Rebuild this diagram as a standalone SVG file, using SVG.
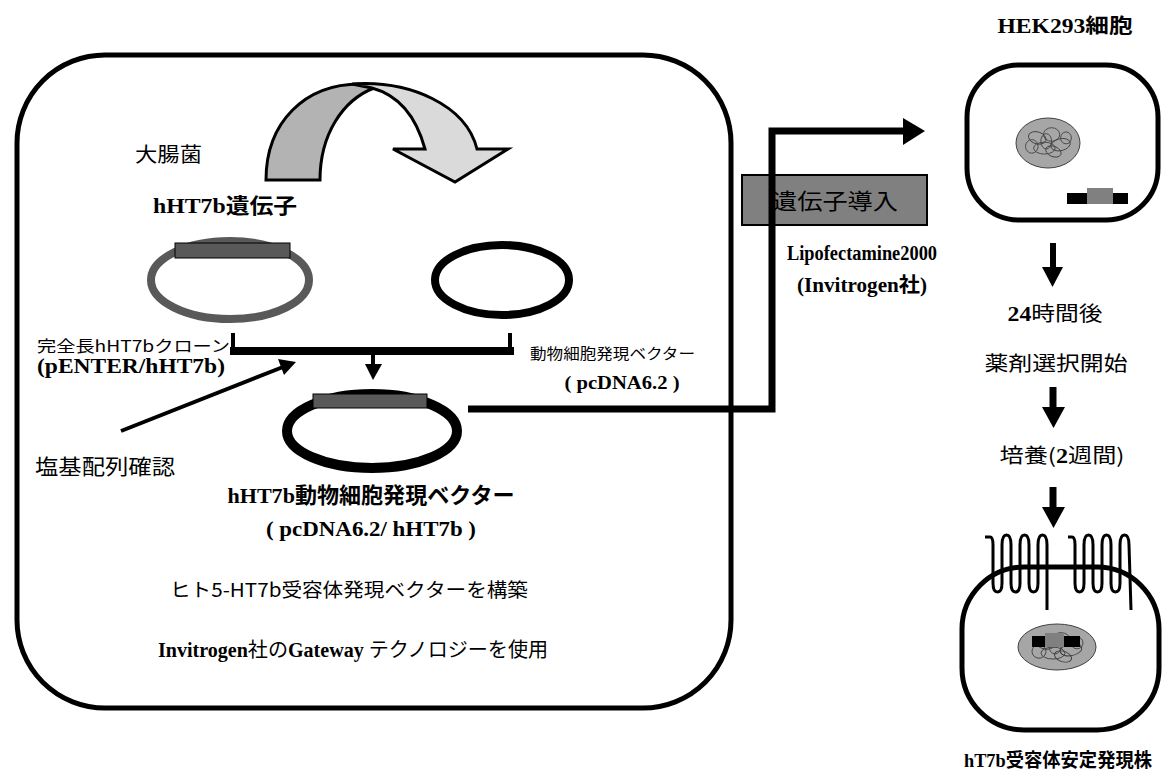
<svg xmlns="http://www.w3.org/2000/svg" width="1169" height="784" viewBox="0 0 1169 784">
  <style>
    text { font-family: "Liberation Serif", "Noto Sans CJK JP", serif; fill: #000; }
    .jp { font-family: "Noto Sans CJK JP", "Liberation Sans", sans-serif; }
    .b { font-weight: bold; }
    .thick { fill: none; stroke: #000; }
    .chrom { fill: none; stroke: #404040; stroke-width: 1; }
  </style>
  <defs>
    <g id="chromatin">
      <ellipse class="chrom" cx="-12" cy="-6" rx="10" ry="7" transform="rotate(20 -12 -6)"/>
      <ellipse class="chrom" cx="4" cy="-10" rx="9" ry="8"/>
      <ellipse class="chrom" cx="14" cy="2" rx="11" ry="7" transform="rotate(-15 14 2)"/>
      <ellipse class="chrom" cx="-4" cy="6" rx="12" ry="7"/>
      <ellipse class="chrom" cx="-18" cy="4" rx="7" ry="8"/>
      <ellipse class="chrom" cx="6" cy="10" rx="9" ry="6" transform="rotate(25 6 10)"/>
      <ellipse class="chrom" cx="-2" cy="-2" rx="6" ry="9"/>
      <ellipse class="chrom" cx="20" cy="-6" rx="6" ry="7"/>
    </g>
  </defs>

  <!-- vector construction panel -->
  <g id="panel">
    <rect x="17" y="55" width="714" height="653" rx="88" ry="88" class="thick" stroke-width="5"/>
  </g>

  <!-- curved transfer arrow -->
  <g id="curved-arrow" stroke="#000" stroke-width="3" stroke-linejoin="miter">
    <path d="M266,180 C266,122 305,84 360,84 L374,88 C343,100 320,134 320,180 Z" fill="#b3b3b3"/>
    <path d="M352,84 C410,80 466,105 477,149 L508,149 L455,182 L393,149 L425,149 C416,116 398,95 372,88 Z" fill="#dadada"/>
  </g>

  <g id="label-ecoli"><text class="jp" x="135" y="162" font-size="20" textLength="67" lengthAdjust="spacingAndGlyphs">大腸菌</text></g>
  <g id="label-gene"><text class="b" x="153" y="213" font-size="21" textLength="144" lengthAdjust="spacingAndGlyphs">hHT7b遺伝子</text></g>

  <!-- entry clone plasmid -->
  <g id="plasmid-entry">
    <ellipse cx="230" cy="280" rx="79" ry="39" fill="none" stroke="#595959" stroke-width="8"/>
    <rect x="175" y="243" width="115" height="15" fill="#595959" stroke="#000" stroke-width="1"/>
  </g>
  <g id="label-entry">
    <text class="jp" x="37" y="352" font-size="16" textLength="193" lengthAdjust="spacingAndGlyphs">完全長hHT7bクローン</text>
    <text class="b" x="37" y="373" font-size="20" textLength="188" lengthAdjust="spacingAndGlyphs">(pENTER/hHT7b)</text>
  </g>

  <!-- destination vector -->
  <g id="plasmid-dest">
    <ellipse cx="502" cy="280" rx="67" ry="35" fill="none" stroke="#000" stroke-width="8"/>
  </g>
  <g id="label-dest">
    <text class="jp" x="530" y="359" font-size="15" textLength="165" lengthAdjust="spacingAndGlyphs">動物細胞発現ベクター</text>
    <text class="b" x="622" y="389" font-size="19" text-anchor="middle" textLength="115" lengthAdjust="spacingAndGlyphs">( pcDNA6.2 )</text>
  </g>

  <!-- expression vector -->
  <g id="plasmid-expr">
    <ellipse cx="372" cy="431" rx="85" ry="37" fill="none" stroke="#000" stroke-width="10"/>
    <rect x="313" y="394" width="114" height="14" fill="#595959" stroke="#000" stroke-width="1"/>
  </g>
  <g id="label-expr">
    <text class="b" x="371" y="503" font-size="22" text-anchor="middle" textLength="287" lengthAdjust="spacingAndGlyphs">hHT7b動物細胞発現ベクター</text>
    <text class="b" x="371" y="536" font-size="20" text-anchor="middle" textLength="210" lengthAdjust="spacingAndGlyphs">( pcDNA6.2/ hHT7b )</text>
  </g>

  <g id="label-seq"><text class="jp" x="35" y="474" font-size="21" textLength="140" lengthAdjust="spacingAndGlyphs">塩基配列確認</text></g>

  <g id="notes">
    <text class="jp" x="170" y="597" font-size="19" textLength="358" lengthAdjust="spacingAndGlyphs">ヒト5-HT7b受容体発現ベクターを構築</text>
    <text x="158" y="657" font-size="20" textLength="390" lengthAdjust="spacingAndGlyphs"><tspan class="b">Invitrogen</tspan><tspan class="jp">社の</tspan><tspan class="b">Gateway </tspan><tspan class="jp">テクノロジーを使用</tspan></text>
  </g>

  <!-- transfection step -->
  <g id="transfection">
    <rect x="742" y="175" width="185" height="50" fill="#808080" stroke="#000" stroke-width="2"/>
    <text class="jp" x="835" y="209" font-size="22" text-anchor="middle" textLength="126" lengthAdjust="spacingAndGlyphs">遺伝子導入</text>
  </g>
  <g id="label-reagent">
    <text class="b" x="862" y="260" font-size="20" text-anchor="middle" textLength="150" lengthAdjust="spacingAndGlyphs">Lipofectamine2000</text>
    <text class="b" x="862" y="292" font-size="20" text-anchor="middle" textLength="130" lengthAdjust="spacingAndGlyphs">(Invitrogen社)</text>
  </g>

  <!-- HEK293 host cell -->
  <g id="cell-host">
    <text class="b" x="1065" y="33" font-size="20" text-anchor="middle" textLength="135" lengthAdjust="spacingAndGlyphs">HEK293細胞</text>
    <rect x="967" y="65" width="191" height="155" rx="52" ry="52" class="thick" stroke-width="5"/>
    <ellipse cx="1048" cy="143" rx="32" ry="25" fill="#a6a6a6" stroke="#404040" stroke-width="1"/>
    <use href="#chromatin" transform="translate(1048 143) scale(0.9 0.85)"/>
    <rect x="1067" y="193" width="61" height="11" fill="#000"/>
    <rect x="1087" y="188" width="26" height="16" fill="#808080"/>
  </g>

  <g id="steps">
    <text class="jp" x="1055" y="321" font-size="20" text-anchor="middle" textLength="95" lengthAdjust="spacingAndGlyphs"><tspan class="b" font-family="Liberation Serif">24</tspan>時間後</text>
    <text class="jp" x="1056" y="371" font-size="20" text-anchor="middle" textLength="143" lengthAdjust="spacingAndGlyphs">薬剤選択開始</text>
    <text class="jp" x="1062" y="463" font-size="20" text-anchor="middle" textLength="125" lengthAdjust="spacingAndGlyphs">培養(<tspan class="b" font-family="Liberation Serif">2</tspan>週間)</text>
  </g>

  <!-- stable expressing cell -->
  <g id="cell-stable">
    <rect x="962" y="567" width="197" height="163" rx="62" ry="62" class="thick" stroke-width="5" fill="#fff"/>
    <path class="thick" stroke-width="3" d="M985,537 L990,537 Q993,537 993,545 L993,583 Q993,592 997.5,592 Q1002,592 1002,583 L1002,545 Q1002,535 1006.5,535 Q1011,535 1011,545 L1011,583 Q1011,592 1015.5,592 Q1020,592 1020,583 L1020,545 Q1020,535 1024.5,535 Q1029,535 1029,545 L1029,583 Q1029,592 1033.5,592 Q1038,592 1038,583 L1038,545 Q1038,535 1042.5,535 Q1047,535 1047,545 L1047,610"/>
    <path class="thick" stroke-width="3" d="M1068,537 L1072,537 Q1075,537 1075,545 L1075,583 Q1075,592 1079.5,592 Q1084,592 1084,583 L1084,545 Q1084,535 1088.5,535 Q1093,535 1093,545 L1093,583 Q1093,592 1097.5,592 Q1102,592 1102,583 L1102,545 Q1102,535 1106.5,535 Q1111,535 1111,545 L1111,583 Q1111,592 1115.5,592 Q1120,592 1120,583 L1120,545 Q1120,535 1124.5,535 Q1129,535 1129,545 L1131,610"/>
    <ellipse cx="1057" cy="647" rx="39" ry="23" fill="#a6a6a6" stroke="#404040" stroke-width="1"/>
    <use href="#chromatin" transform="translate(1057 648) scale(1 0.85)"/>
    <rect x="1032" y="636" width="48" height="11" fill="#000"/>
    <rect x="1045" y="633" width="19" height="14" fill="#808080"/>
    <text class="b" x="1058" y="767" font-size="19" text-anchor="middle" textLength="188" lengthAdjust="spacingAndGlyphs">hT7b受容体安定発現株</text>
  </g>

  <!-- connectors -->
  <g id="connectors" fill="none" stroke="#000">
    <!-- recombination bracket -->
    <path d="M233,333 L233,351 M510,333 L510,351" stroke-width="4"/>
    <path d="M230,351 L514,351" stroke-width="8"/>
    <path d="M373,355 L373,366" stroke-width="4"/>
    <path d="M365,364 L382,364 L373,380 Z" fill="#000" stroke="none"/>
    <!-- sequence check pointer -->
    <path d="M121,431 L283,367" stroke-width="4"/>
    <path d="M296,362 L278,359 L284,375 Z" fill="#000" stroke="none"/>
    <!-- transfection route -->
    <path d="M468,409 L772,409 L772,131 L905,131" stroke-width="7"/>
    <path d="M903,118 L925,131 L903,145 Z" fill="#000" stroke="none"/>
    <!-- timeline arrows -->
    <path d="M1053,243 L1053,268" stroke-width="6"/>
    <path d="M1042,267 L1063,267 L1052.5,287 Z" fill="#000" stroke="none"/>
    <path d="M1053,387 L1053,408" stroke-width="7"/>
    <path d="M1042,407 L1065,407 L1053.5,428 Z" fill="#000" stroke="none"/>
    <path d="M1053,487 L1053,508" stroke-width="7"/>
    <path d="M1042,507 L1065,507 L1053.5,528 Z" fill="#000" stroke="none"/>
  </g>
</svg>
